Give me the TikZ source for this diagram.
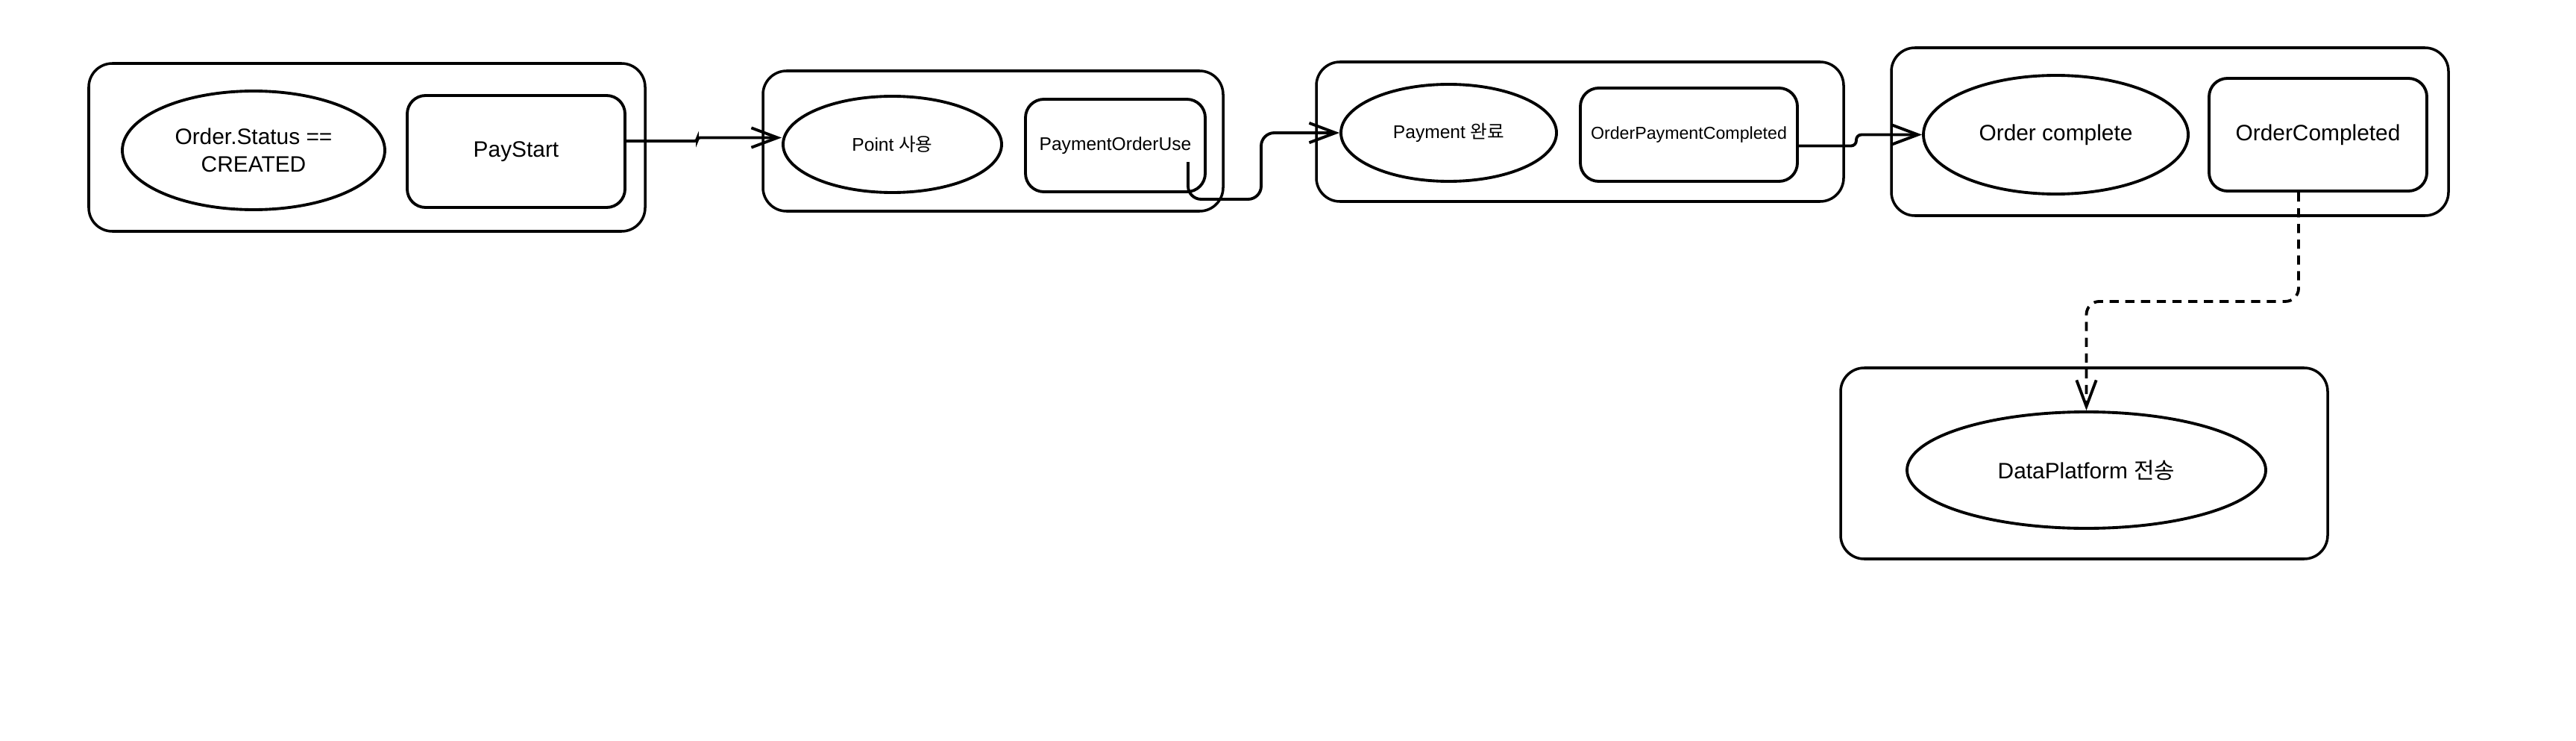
\documentclass[tikz,border=0pt]{standalone}
\usepackage{fontspec}
\setmainfont{Liberation Sans}
\newfontfamily\kofont{Noto Sans CJK KR}
\usetikzlibrary{shapes.geometric}
\usetikzlibrary{arrows.meta}
\newcommand{\ko}[1]{{\kofont #1}}

\begin{document}
\begin{tikzpicture}[
  every node/.style={font=\fontsize{7}{8.5}\selectfont, line width=1.1pt},
  groupbox/.style={draw, rounded corners=9pt, line width=1pt},
  statenode/.style={draw, ellipse, inner sep=0pt, align=center},
  eventbox/.style={draw, rounded corners=7pt, inner sep=0pt},
  bigtext/.style={font=\fontsize{8.5}{10.5}\selectfont},
  flowline/.style={line width=1.1pt, rounded corners=5pt, -{Straight Barb[length=10pt,width=7.5pt]}}
]
\useasboundingbox (0,0) rectangle (34.54,9.92);

% groups
\node[groupbox, minimum width=7.46cm, minimum height=2.25cm] (g1) at (4.92,7.945) {};
\node[groupbox, minimum width=6.17cm, minimum height=1.88cm] (g2) at (13.315,8.03) {};
\node[groupbox, minimum width=7.07cm, minimum height=1.87cm] (g3) at (21.185,8.155) {};
\node[groupbox, minimum width=7.47cm, minimum height=2.25cm] (g4) at (29.095,8.155) {};
\node[groupbox, minimum width=6.53cm, minimum height=2.56cm] (g5) at (27.945,3.71) {};

% states and events
\node[statenode, bigtext, minimum width=3.52cm, minimum height=1.59cm] (ell1) at (3.40,7.905) {Order.Status ==\\CREATED};
\node[eventbox, bigtext, minimum width=2.92cm, minimum height=1.50cm] (pay) at (6.92,7.89) {PayStart};

\node[statenode, minimum width=2.93cm, minimum height=1.29cm] (ell2) at (11.965,7.985) {Point \ko{사용}};
\node[eventbox, minimum width=2.41cm, minimum height=1.24cm] (use) at (14.955,7.97) {PaymentOrderUse};

\node[statenode, minimum width=2.89cm, minimum height=1.30cm] (ell3) at (19.425,8.14) {Payment \ko{완료}};
\node[eventbox, minimum width=2.91cm, minimum height=1.25cm, font=\fontsize{6.6}{8}\selectfont] (opc) at (22.645,8.115) {OrderPaymentCompleted};

\node[statenode, bigtext, minimum width=3.55cm, minimum height=1.59cm] (ell4) at (27.565,8.115) {Order complete};
\node[eventbox, bigtext, minimum width=2.92cm, minimum height=1.51cm] (oc) at (31.08,8.115) {OrderCompleted};

\node[statenode, bigtext, minimum width=4.81cm, minimum height=1.56cm] (ell5) at (27.975,3.62) {DataPlatform \ko{전송}};

% connectors
\coordinate (use_out) at (15.93,7.75);
\draw[flowline, rounded corners=1pt] ([yshift=0.14cm]pay.east) -- ++(0.95,0) |- ([yshift=0.09cm]ell2.west);
\draw[flowline] (use_out) |- ++(0.98,-0.5) |- (ell3.west);
\draw[flowline, rounded corners=2pt] ([yshift=-0.15cm]opc.east) -- ++(0.77,0) |- (ell4.west);
\draw[flowline, dash pattern=on 3.5pt off 2.5pt] ([xshift=-0.26cm]oc.south) -- ++(0,-1.46) -| (ell5.north);
\end{tikzpicture}
\end{document}
